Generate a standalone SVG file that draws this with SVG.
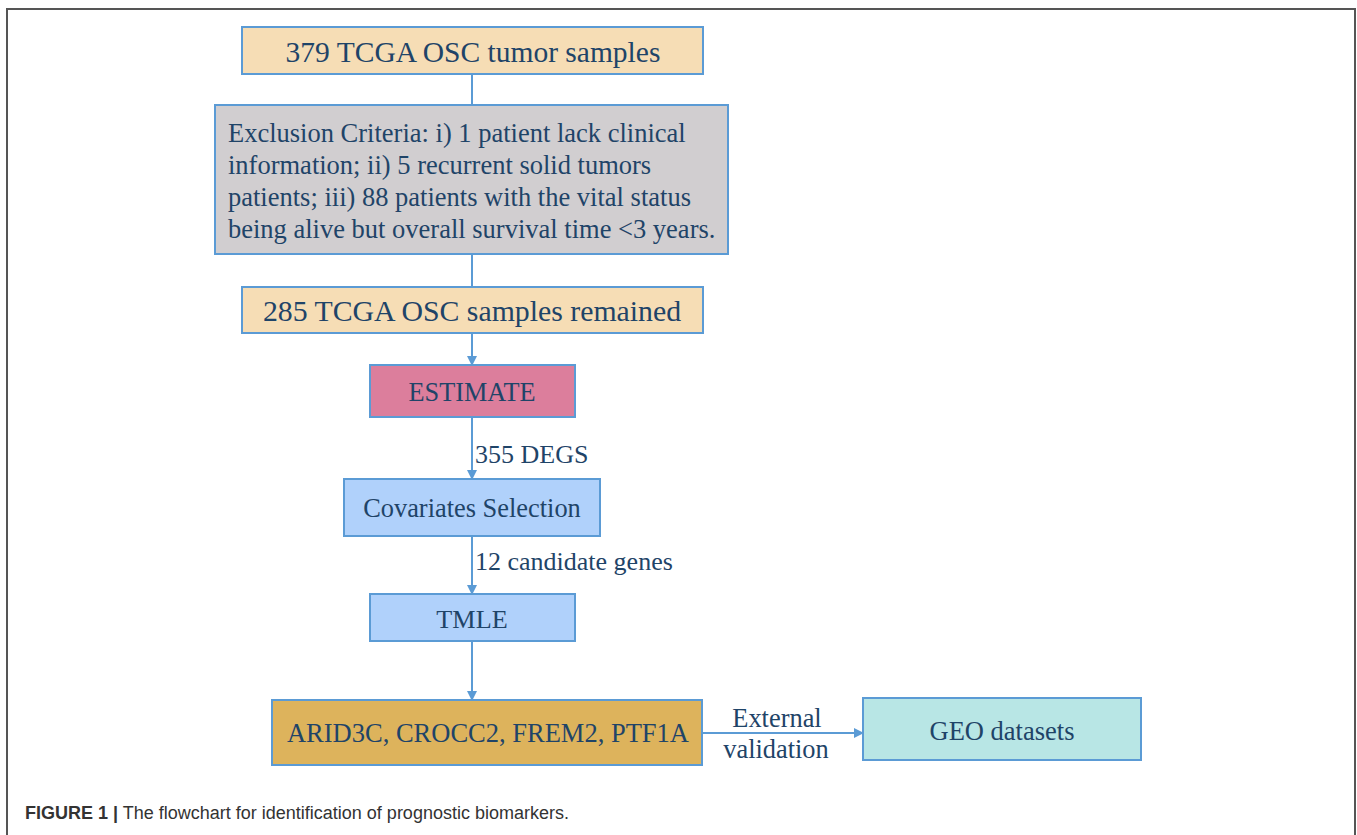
<svg xmlns="http://www.w3.org/2000/svg" width="1357" height="835" viewBox="0 0 1357 835">
<style>
.box{stroke:#5B9BD5;stroke-width:2}
.t{font-family:"Liberation Serif","Times New Roman",serif;fill:#1F4468}
.c{text-anchor:middle}
.conn{stroke:#5B9BD5;stroke-width:2;fill:none}
</style>
<defs>
<marker id="ah" markerWidth="10" markerHeight="10" refX="9" refY="5" orient="auto" markerUnits="userSpaceOnUse">
<path d="M0,0 L10,5 L0,10 Z" fill="#5B9BD5"/>
</marker>
</defs>
<rect x="0" y="0" width="1357" height="835" fill="#fff"/>
<path d="M7,835 V9 H1355 V835" fill="none" stroke="#555" stroke-width="2"/>
<g id="connectors">
<line class="conn" x1="472" y1="74" x2="472" y2="104"/>
<line class="conn" x1="472" y1="254" x2="472" y2="287"/>
<line class="conn" x1="472" y1="333" x2="472" y2="365" marker-end="url(#ah)"/>
<line class="conn" x1="472" y1="417" x2="472" y2="479" marker-end="url(#ah)"/>
<line class="conn" x1="472" y1="537" x2="472" y2="594" marker-end="url(#ah)"/>
<line class="conn" x1="472" y1="641" x2="472" y2="700" marker-end="url(#ah)"/>
<line class="conn" x1="702" y1="733" x2="863" y2="733" marker-end="url(#ah)"/>
<text class="t" x="475" y="463" font-size="26">355 DEGS</text>
<text class="t" x="475" y="570" font-size="26">12 candidate genes</text>
<text class="t c" x="777" y="727" font-size="26.4">External</text>
<text class="t c" x="776" y="758" font-size="26.4">validation</text>
</g>
<g id="n1">
<rect class="box" x="242" y="27" width="461" height="47" fill="#F6DDB5"/>
<text class="t c" x="473" y="62" font-size="29.5">379 TCGA OSC tumor samples</text>
</g>
<g id="n2">
<rect class="box" x="215" y="105" width="513" height="149" fill="#D1CED0"/>
<text class="t" font-size="26.5">
<tspan x="228" y="142">Exclusion Criteria: i) 1 patient lack clinical</tspan>
<tspan x="228" y="174">information; ii) 5 recurrent solid tumors</tspan>
<tspan x="228" y="206">patients; iii) 88 patients with the vital status</tspan>
<tspan x="228" y="238">being alive but overall survival time &lt;3 years.</tspan>
</text>
</g>
<g id="n3">
<rect class="box" x="242" y="287" width="461" height="46" fill="#F6DDB5"/>
<text class="t c" x="472" y="321" font-size="29.8">285 TCGA OSC samples remained</text>
</g>
<g id="n4">
<rect class="box" x="370" y="365" width="205" height="52" fill="#DC7E9C"/>
<text class="t c" x="472" y="401" font-size="26.3">ESTIMATE</text>
</g>
<g id="n5">
<rect class="box" x="344" y="479" width="256" height="57" fill="#B0D1FB"/>
<text class="t c" x="472" y="517" font-size="26.4">Covariates Selection</text>
</g>
<g id="n6">
<rect class="box" x="370" y="594" width="205" height="47" fill="#B0D1FB"/>
<text class="t c" x="472" y="628" font-size="26.2">TMLE</text>
</g>
<g id="n7">
<rect class="box" x="272" y="700" width="430" height="65" fill="#DDB35C"/>
<text class="t c" x="488" y="742" font-size="26.5">ARID3C, CROCC2, FREM2, PTF1A</text>
</g>
<g id="n8">
<rect class="box" x="863" y="698" width="278" height="62" fill="#B8E6E5"/>
<text class="t c" x="1002" y="740" font-size="26.5">GEO datasets</text>
</g>
<text x="25" y="819" font-family="Liberation Sans,Arial,sans-serif" font-size="18" fill="#333"><tspan font-weight="bold">FIGURE 1 |</tspan> The flowchart for identification of prognostic biomarkers.</text>
</svg>
